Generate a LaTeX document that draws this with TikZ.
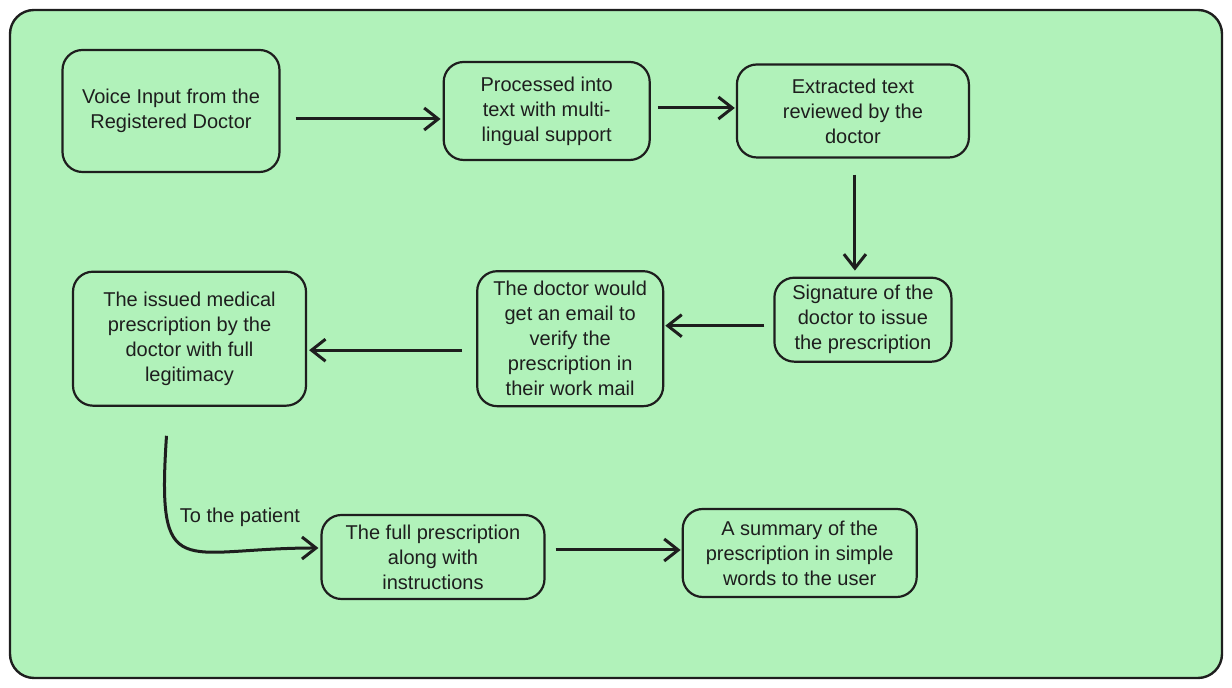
\documentclass[tikz,border=0pt]{standalone}
\usepackage{fontspec}
\setmainfont{Liberation Sans}
\usepackage{tikz}
\usetikzlibrary{arrows.meta,positioning}
\definecolor{mint}{HTML}{B1F2BA}
\definecolor{ink}{HTML}{1E1E1E}
\tikzstyle{stage} = [rectangle, rounded corners=10pt, draw=ink, line width=1.1pt, fill=none, text=ink, align=center, font=\fontsize{10}{12.5}\selectfont, inner sep=0pt]
\tikzstyle{textonly} = [draw=none, fill=none, text=ink, text centered, font=\fontsize{10}{12.5}\selectfont]
\tikzstyle{flow} = [draw=ink, line width=1.5pt, -{Straight Barb[length=7pt, width=11pt]}]

\begin{document}
\begin{tikzpicture}[x=1pt, y=1pt]
\useasboundingbox (0,0) rectangle (616,344);

% frame ==================================
\draw[draw=ink, line width=1.2pt, fill=mint, rounded corners=12pt] (5,5) rectangle (611,339);

% stages =================================
\node[stage, minimum width=108.5pt, minimum height=61pt] (voice) at (85.5,288.5) {Voice Input from the\\Registered Doctor};
\node[stage, minimum width=103pt, minimum height=49pt, right=81pt of voice] (proc) {Processed into\\text with multi-\\lingual support};
\node[stage, minimum width=116pt, minimum height=46.5pt, right=42.5pt of proc] (extr) {Extracted text\\reviewed by the\\doctor};

\node[stage, minimum width=88.5pt, minimum height=42pt, below=59pt of extr, xshift=5pt] (sign) {Signature of the\\doctor to issue\\the prescription};
\node[stage, minimum width=93pt, minimum height=67.5pt, left=54.5pt of sign, yshift=-9.5pt] (email) {The doctor would\\get an email to\\verify the\\prescription in\\their work mail};
\node[stage, minimum width=116.5pt, minimum height=67pt, left=84.5pt of email] (issued) {The issued medical\\prescription by the\\doctor with full\\legitimacy};

\node[stage, minimum width=111.5pt, minimum height=42pt] (full) at (216.5,65.5) {The full prescription\\along with\\instructions};
\node[stage, minimum width=117pt, minimum height=44pt, right=68pt of full, yshift=2pt] (summ) {A summary of the\\prescription in simple\\words to the user};

\node[textonly] (patient) at (120,85.5) {To the patient};

% edges first row
\draw[flow, shorten <=7.5pt, shorten >=1pt] ([yshift=-4pt]voice.east) -- ([yshift=-4pt]voice.east -| proc.west);
\draw[flow, shorten <=3.5pt, shorten >=0.5pt] ([yshift=1.5pt]proc.east) -- ([yshift=1.5pt]proc.east -| extr.west);
\draw[flow, shorten <=8pt, shorten >=3pt] ([xshift=1pt]extr.south) -- ([xshift=1pt]extr.south |- sign.north);

% edges second row
\draw[flow, shorten <=4.5pt, shorten >=0.5pt] ([yshift=-3pt]sign.west) -- ([yshift=-3pt]sign.west -| email.east);
\draw[flow, shorten <=7pt, shorten >=1pt] ([yshift=-5.75pt]email.west) -- ([yshift=-5.75pt]email.west -| issued.east);

% edges to the patient
\draw[flow, shorten >=1pt] ([xshift=-11.5pt, yshift=-14.5pt]issued.south) .. controls +(-5,-75) and +(-70,0) .. ([yshift=4.5pt]full.west);
\draw[flow, shorten <=5pt, shorten >=0.5pt] ([yshift=3.5pt]full.east) -- ([yshift=3.5pt]full.east -| summ.west);

\end{tikzpicture}
\end{document}
